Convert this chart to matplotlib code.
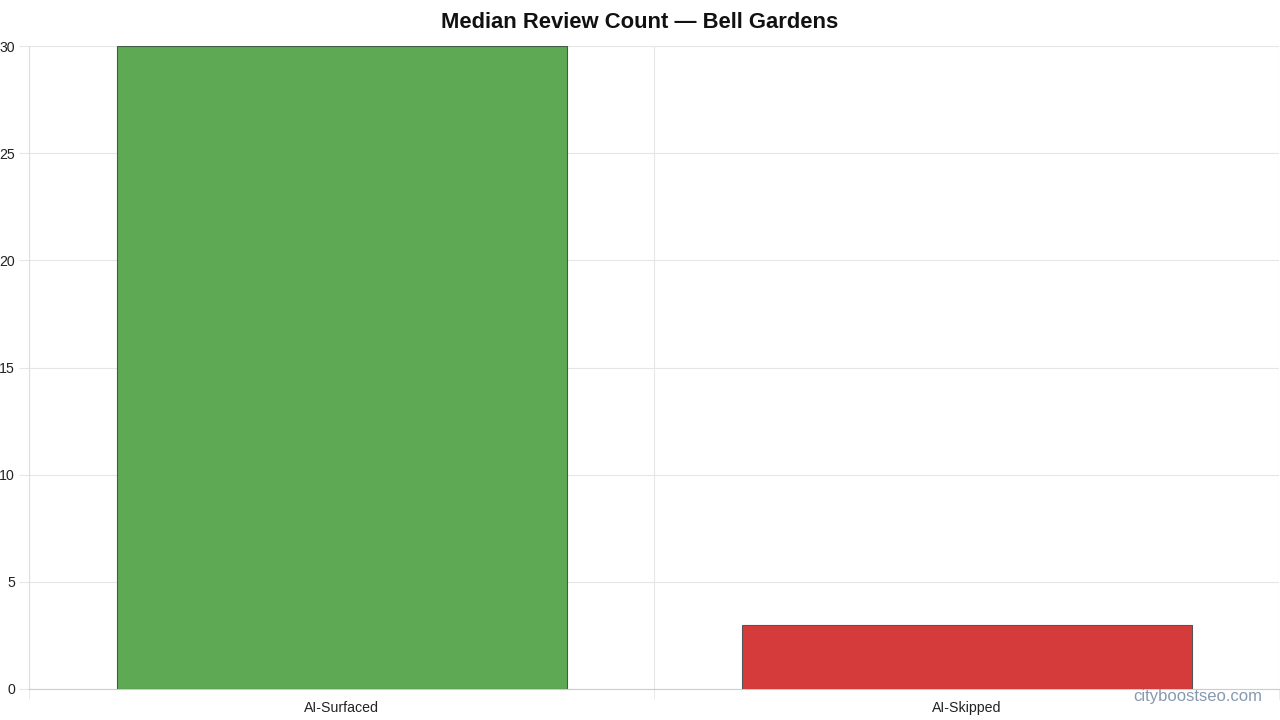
import matplotlib
matplotlib.use("Agg")
import matplotlib.pyplot as plt
from matplotlib.ticker import MultipleLocator, FixedLocator

plt.rcParams['font.family'] = ['Liberation Sans', 'DejaVu Sans']

categories = ["AI-Surfaced", "AI-Skipped"]
values = [30, 3]
colors = ["#5ea954", "#d63b3b"]
edges = ["#3f5e45", "#555555"]
title = "Median Review Count — Bell Gardens"

fig = plt.figure(figsize=(12.8, 7.2), dpi=100)
ax = fig.add_axes([29/1280, 1 - 689/720, 1 - 29/1280 - 0.0005, (689 - 46)/720])

x = list(range(len(categories)))
ax.bar(x, values, width=0.72, color=colors, edgecolor=edges, linewidth=0.8, zorder=3)

ax.set_xlim(-0.5, len(categories) - 0.5)
ax.set_ylim(0, 30)
ax.yaxis.set_major_locator(MultipleLocator(5))
ax.set_xticks(x)
ax.set_xticklabels(categories)
ax.xaxis.set_minor_locator(FixedLocator([-0.5, 0.5, 1.5]))

ax.grid(axis='y', which='major', color='#e6e6e6', linewidth=0.8, zorder=0)
ax.grid(axis='x', which='minor', color='#e6e6e6', linewidth=0.8, zorder=0)
ax.grid(axis='x', which='major', visible=False)

ax.tick_params(axis='y', which='major', length=7, color='#e6e6e6', labelsize=10.2, labelcolor='#222222', pad=3)
ax.tick_params(axis='x', which='major', length=0, labelsize=10.2, labelcolor='#222222', pad=8.5)
ax.tick_params(axis='x', which='minor', length=7, color='#e6e6e6')

for s in ['top', 'right']:
    ax.spines[s].set_visible(False)
ax.spines['left'].set_color('#dddddd')
ax.spines['bottom'].set_color('#cccccc')

fig.text(640/1280, 1 - 23/720, title, ha='center', va='center',
         fontsize=15.8, fontweight='bold', color='#111111')
fig.text(1262/1280, 1 - 697/720, "cityboostseo.com", ha='right', va='center',
         fontsize=12, color='#8799ad')

fig.savefig("out.png", dpi=100)
